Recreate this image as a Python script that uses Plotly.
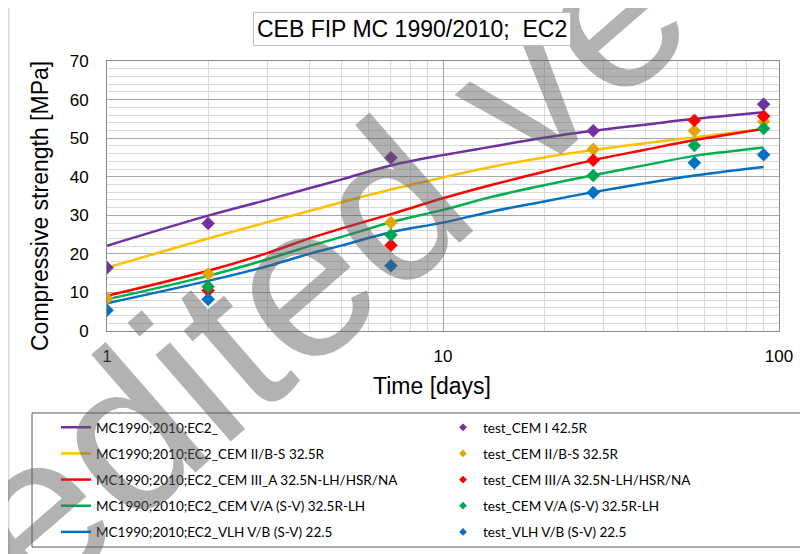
import plotly.graph_objects as go

# the page adds an 8px body margin, so the figure is 8px smaller and
# every reference-pixel position below is shifted by OFF
OFF = 8
W, H = 808 - OFF, 554 - OFF
L, R, T, B = 107 - OFF, 29, 61 - OFF, 223
PW, PH = W - L - R, H - T - B


def px_x(x):
    return (x - OFF - L) / PW


def px_y(y):
    return (H - B - (y - OFF)) / PH


# fitted model curves (MC1990/2010; EC2)
t_fit = [1, 2, 3, 4, 5, 7, 10, 14, 20, 28, 40, 56, 70, 90]
fit_cem1 = [22.1, 29.9, 34.0, 37.0, 39.3, 42.9, 45.6, 47.8, 50.1, 51.9, 53.5, 55.0, 55.8, 56.7]
fit_cem2 = [16.4, 24.0, 28.2, 31.1, 33.4, 36.7, 39.8, 42.6, 45.0, 46.9, 48.7, 50.2, 51.2, 52.4]
fit_cem3 = [9.1, 15.6, 20.2, 24.0, 26.6, 30.3, 34.4, 37.9, 41.3, 44.3, 47.0, 49.5, 50.9, 52.4]
fit_cem5 = [8.2, 14.3, 18.6, 22.0, 24.4, 28.2, 31.4, 34.8, 37.8, 40.4, 43.0, 45.4, 46.5, 47.6]
fit_vlh = [7.2, 13.0, 16.8, 20.0, 22.2, 25.6, 28.1, 31.0, 33.6, 36.0, 38.3, 40.3, 41.4, 42.5]

# test results
t_test = [1, 2, 7, 28, 56, 90]
test_cem1 = [16.4, 27.9, 44.9, 51.9, None, 58.8]
test_cem2 = [8.4, 14.8, 28.1, 47.1, 51.9, 54.3]
test_cem3 = [None, 10.5, 22.2, 44.3, 54.6, 55.7]
test_cem5 = [None, 11.5, 24.9, 40.3, 48.1, 52.5]
test_vlh = [5.4, 8.2, 16.9, 35.9, 43.6, 45.7]

fit_names = [
    "MC1990;2010;EC2_",
    "MC1990;2010;EC2_CEM II/B-S 32.5R",
    "MC1990;2010;EC2_CEM III_A 32.5N-LH/HSR/NA",
    "MC1990;2010;EC2_CEM V/A (S-V) 32.5R-LH",
    "MC1990;2010;EC2_VLH V/B (S-V) 22.5",
]
test_names = [
    "test_CEM I 42.5R",
    "test_CEM II/B-S 32.5R",
    "test_CEM III/A 32.5N-LH/HSR/NA",
    "test_CEM V/A (S-V) 32.5R-LH",
    "test_VLH V/B (S-V) 22.5",
]
line_colors = ["#7030A0", "#FFC000", "#FF0000", "#00B050", "#0070C0"]
marker_colors = ["#7030A0", "#E2A700", "#FF0000", "#00A550", "#0070C0"]

fits = [fit_cem1, fit_cem2, fit_cem3, fit_cem5, fit_vlh]
tests = [test_cem1, test_cem2, test_cem3, test_cem5, test_vlh]

fig = go.Figure()

# model curves first
for i, (name, ys) in enumerate(zip(fit_names, fits)):
    fig.add_trace(go.Scatter(
        x=t_fit, y=ys, name=name, mode="lines", line_shape="spline",
        line=dict(color=line_colors[i], width=2.5),
        legend="legend", legendgroup=f"fit{i}",
    ))

# test points on top
for i, ys in enumerate(tests):
    fig.add_trace(go.Scatter(
        x=t_test, y=ys, mode="markers", showlegend=False,
        marker=dict(symbol="diamond", size=10, color=marker_colors[i],
                    line=dict(color=marker_colors[i], width=0.5)),
    ))

# small legend markers for the right column
for i, name in enumerate(test_names):
    fig.add_trace(go.Scatter(
        x=[None], y=[None], name=name, mode="markers",
        marker=dict(symbol="diamond", size=6, color=marker_colors[i]),
        legend="legend2", legendgroup=f"test{i}",
    ))

arial = "Liberation Sans, Arial"
ax_font = dict(family=arial, size=17, color="#000000")
legend_font = dict(family="Lato", size=13.5, color="#000000")

fig.update_xaxes(
    type="log", range=[0, 2],
    tickvals=[1, 10, 100], ticktext=["1", "10", "100"],
    showgrid=True, gridcolor="#a6a6a6", gridwidth=1,
    minor=dict(dtick="D1", showgrid=True, gridcolor="#d9d9d9", gridwidth=1),
    showline=True, linecolor="#8c8c8c", linewidth=1, mirror=True,
    ticks="", ticklabelstandoff=10, tickfont=ax_font, zeroline=False,
)
fig.update_yaxes(
    range=[0, 70], dtick=10,
    showgrid=True, gridcolor="#a6a6a6", gridwidth=1,
    minor=dict(dtick=2, showgrid=True, gridcolor="#d9d9d9", gridwidth=1),
    showline=True, linecolor="#8c8c8c", linewidth=1, mirror=True,
    ticks="", ticklabelstandoff=14, tickfont=ax_font, zeroline=False,
)

legend_common = dict(
    xanchor="left", yanchor="top", orientation="v", font=legend_font,
    bgcolor="rgba(0,0,0,0)", traceorder="grouped", tracegroupgap=5.6,
    borderwidth=0,
)

fig.update_layout(
    width=W, height=H,
    margin=dict(l=L, r=R, t=T, b=B, autoexpand=False),
    paper_bgcolor="white", plot_bgcolor="white",
    font=dict(family=arial, color="#000000"),
    legend=dict(x=px_x(56), y=px_y(412), **legend_common),
    legend2=dict(x=px_x(443), y=px_y(412), **legend_common),
    shapes=[
        # outer chart frame (left edge)
        dict(type="line", xref="paper", yref="paper",
             x0=px_x(8.75), x1=px_x(8.75), y0=px_y(560), y1=px_y(0),
             line=dict(color="#d9d9d9", width=1.5), layer="below"),
        # legend frame
        dict(type="rect", xref="paper", yref="paper",
             x0=px_x(32), x1=px_x(804), y0=px_y(547), y1=px_y(413),
             line=dict(color="#595959", width=1), layer="below"),
    ],
    annotations=[
        # watermark (drawn first so the title box covers it)
        dict(text="Unedited ve", xref="paper", yref="paper",
             x=px_x(216), y=px_y(355), xanchor="center", yanchor="middle",
             showarrow=False, textangle=-41,
             font=dict(family=arial, size=217, color="rgba(95,95,95,0.48)")),
        dict(text="CEB FIP MC 1990/2010;\u00a0 EC2", xref="paper", yref="paper",
             x=px_x(412), y=px_y(29), xanchor="center", yanchor="middle",
             showarrow=False, font=dict(family=arial, size=23),
             bordercolor="#bfbfbf", borderwidth=1, borderpad=3, bgcolor="white"),
        dict(text="Compressive strength [MPa]", xref="paper", yref="paper",
             x=px_x(40), y=px_y(206), xanchor="center", yanchor="middle",
             showarrow=False, textangle=-90, font=dict(family=arial, size=23)),
        dict(text="Time [days]", xref="paper", yref="paper",
             x=px_x(432), y=px_y(386), xanchor="center", yanchor="middle",
             showarrow=False, font=dict(family=arial, size=23)),
    ],
)

fig.write_html("out.html")
